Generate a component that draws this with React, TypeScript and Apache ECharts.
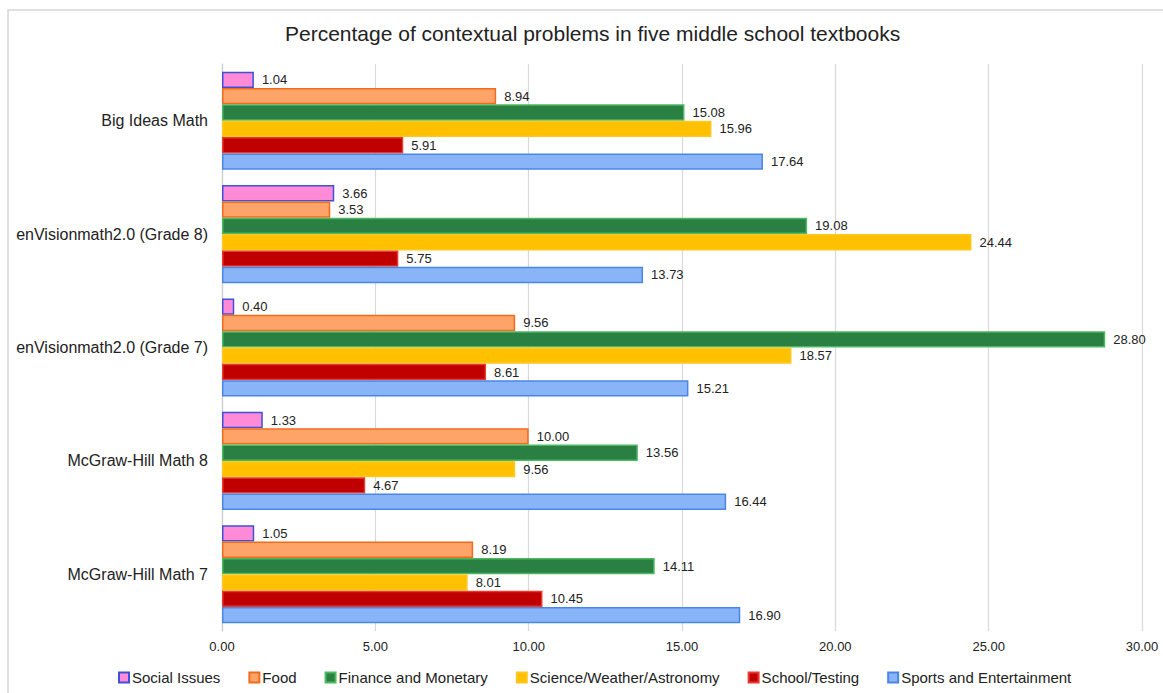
import React, { useEffect, useRef } from "react";
import * as echarts from "echarts";

const categories = [
  "Big Ideas Math",
  "enVisionmath2.0 (Grade 8)",
  "enVisionmath2.0 (Grade 7)",
  "McGraw-Hill Math 8",
  "McGraw-Hill Math 7",
];
const socialIssues = [1.04, 3.66, 0.4, 1.33, 1.05];
const food = [8.94, 3.53, 9.56, 10.0, 8.19];
const finance = [15.08, 19.08, 28.8, 13.56, 14.11];
const science = [15.96, 24.44, 18.57, 9.56, 8.01];
const school = [5.91, 5.75, 8.61, 4.67, 10.45];
const sports = [17.64, 13.73, 15.21, 16.44, 16.9];

const seriesDefs = [
  { name: "Social Issues", data: socialIssues, color: "#FF8AD8", border: "#3F51D4" },
  { name: "Food", data: food, color: "#FFA469", border: "#F26B1D" },
  { name: "Finance and Monetary", data: finance, color: "#2A7F42", border: "#4CB860" },
  { name: "Science/Weather/Astronomy", data: science, color: "#FFC000", border: "#FFC71F" },
  { name: "School/Testing", data: school, color: "#C00000", border: "#E83A2E" },
  { name: "Sports and Entertainment", data: sports, color: "#8AB4F8", border: "#4A86E8" },
];

const FONT = "'Liberation Sans', Arial, sans-serif";

export default function App() {
  const ref = useRef<HTMLDivElement>(null);
  useEffect(() => {
    document.body.style.margin = "0";
    if (!ref.current) return;
    const chart = echarts.init(ref.current, null, { renderer: "svg" });
    chart.setOption({
      animation: false,
      backgroundColor: "#ffffff",
      textStyle: { fontFamily: FONT },
      title: {
        text: "Percentage of contextual problems in five middle school textbooks",
        left: 280,
        top: 18,
        textStyle: { fontFamily: FONT, fontSize: 21, fontWeight: "normal", color: "#222" },
      },
      graphic: [
        {
          type: "rect",
          shape: { x: 8, y: 10, width: 1200, height: 720 },
          style: { fill: "none", stroke: "#d6d6d6", lineWidth: 1.5 },
          silent: true,
        },
      ],
      legend: {
        left: 113,
        top: 665,
        itemWidth: 10,
        itemHeight: 10,
        itemGap: 28,
        icon: "rect",
        textStyle: { fontFamily: FONT, fontSize: 15, color: "#222", padding: [0, 0, 0, -2] },
        data: seriesDefs.map((s) => s.name),
      },
      grid: { left: 222, right: 21, top: 64, bottom: 62 },
      xAxis: {
        type: "value",
        min: 0,
        max: 30,
        interval: 5,
        axisLabel: {
          formatter: (v: number) => v.toFixed(2),
          fontFamily: FONT,
          fontSize: 13,
          color: "#222",
          margin: 9,
        },
        axisLine: { show: false },
        axisTick: { show: false },
        splitLine: { show: true, lineStyle: { color: "#d9d9d9", width: 1.2 } },
      },
      yAxis: {
        type: "category",
        inverse: true,
        data: categories,
        axisLabel: { fontFamily: FONT, fontSize: 16, color: "#222", margin: 14 },
        axisLine: { show: true, lineStyle: { color: "#cccccc", width: 1.2 } },
        axisTick: { show: false },
      },
      series: seriesDefs.map((s) => ({
        type: "bar",
        name: s.name,
        data: s.data,
        barGap: "0%",
        barCategoryGap: "13.5%",
        itemStyle: { color: s.color, borderColor: s.border, borderWidth: 1.5 },
        label: {
          show: true,
          position: "right",
          distance: 8,
          formatter: (p: any) => Number(p.value).toFixed(2),
          fontFamily: FONT,
          fontSize: 13,
          color: "#222",
        },
      })),
    });
    return () => chart.dispose();
  }, []);
  return <div ref={ref} style={{ width: 1163, height: 693 }} />;
}
